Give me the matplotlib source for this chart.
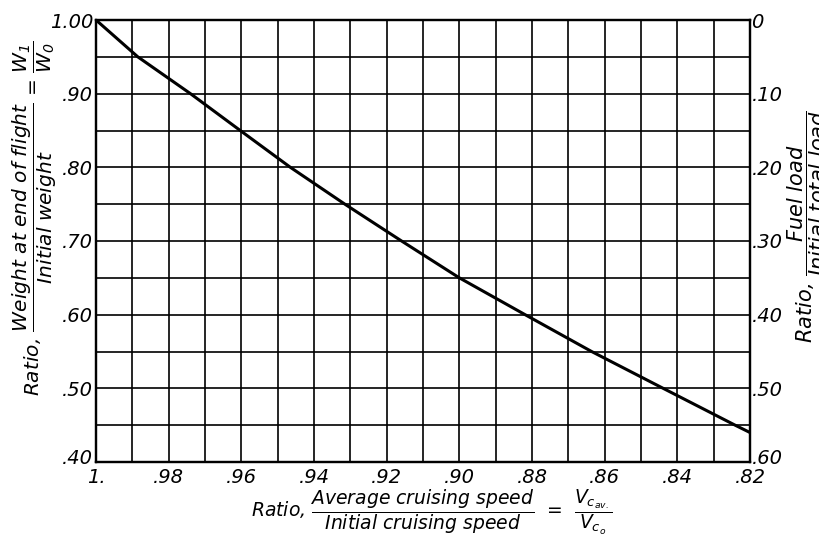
import numpy as np
import matplotlib.pyplot as plt
import matplotlib.transforms as mtransforms
from matplotlib import rcParams

rcParams['font.family'] = 'sans-serif'
plt.rcParams['font.sans-serif'] = ['DejaVu Sans']
plt.rcParams['font.style'] = 'oblique'
plt.rcParams['mathtext.fontset'] = 'dejavusans'

# curve: speed ratio vs weight ratio
speed_ratio = [1.000, 0.9885, 0.974, 0.9603, 0.9465, 0.9315, 0.9159, 0.900, 0.8819, 0.8636, 0.8439, 0.8241, 0.820]
weight_ratio = [1.00, 0.95, 0.90, 0.85, 0.80, 0.75, 0.70, 0.65, 0.60, 0.55, 0.50, 0.45, 0.440]

x_ticks = [1.00, 0.98, 0.96, 0.94, 0.92, 0.90, 0.88, 0.86, 0.84, 0.82]
x_labels = ['1.', '.98', '.96', '.94', '.92', '.90', '.88', '.86', '.84', '.82']
y_ticks = [0.40, 0.50, 0.60, 0.70, 0.80, 0.90, 1.00]
y_labels = ['.40', '.50', '.60', '.70', '.80', '.90', '1.00']
fuel_ticks = [0, 0.10, 0.20, 0.30, 0.40, 0.50, 0.60]
fuel_labels = ['0', '.10', '.20', '.30', '.40', '.50', '.60']

fig = plt.figure(figsize=(8.19, 5.36), dpi=100)
ax = fig.add_axes([96 / 819, 74 / 536, 654 / 819, 442 / 536])

# grid: every .01 in x, every .05 in y
for v in np.arange(0.99, 0.8205, -0.01):
    ax.axvline(v, color='black', lw=1.2, zorder=1)
for h in np.arange(0.45, 0.996, 0.05):
    ax.axhline(h, color='black', lw=1.2, zorder=1)

ax.plot(speed_ratio, weight_ratio, color='black', lw=2.2, zorder=3)

ax.set_xlim(1.00, 0.82)
ax.set_ylim(0.40, 1.00)
ax.set_xticks(x_ticks)
ax.set_xticklabels(x_labels)
ax.set_yticks(y_ticks)
ax.set_yticklabels(y_labels)
ax.tick_params(length=0, labelsize=14)
ax.tick_params(axis='x', pad=4)
ax.tick_params(axis='y', pad=2)
for s in ax.spines.values():
    s.set_linewidth(1.6)

ax2 = ax.twinx()
ax2.set_ylim(0.60, 0.0)
ax2.set_yticks(fuel_ticks)
ax2.set_yticklabels(fuel_labels)
ax2.tick_params(length=0, labelsize=14, pad=1)
for s in ax2.spines.values():
    s.set_linewidth(1.6)

# lift the two bottom-corner labels a little so they clear the x labels
lift = mtransforms.ScaledTranslation(0, 6 / 100, fig.dpi_scale_trans)
for lab in (ax.get_yticklabels()[0], ax2.get_yticklabels()[-1]):
    lab.set_transform(lab.get_transform() + lift)

fig.text(35 / 819, 1 - 218 / 536,
         r'Ratio, $\dfrac{Weight\ at\ end\ of\ flight}{Initial\ weight}$ = $\dfrac{W_1}{W_0}$',
         rotation=90, ha='center', va='center', fontsize=14.5)
fig.text(432 / 819, 1 - 512 / 536,
         r'Ratio, $\dfrac{Average\ cruising\ speed}{Initial\ cruising\ speed}$  =  $\dfrac{V_{c_{av.}}}{V_{c_o}}$',
         ha='center', va='center', fontsize=13.5)
fig.text(807 / 819, 1 - 226 / 536,
         r'Ratio, $\dfrac{Fuel\ load}{Initial\ total\ load}$',
         rotation=90, ha='center', va='center', fontsize=15)

plt.savefig('out.png', dpi=100)
